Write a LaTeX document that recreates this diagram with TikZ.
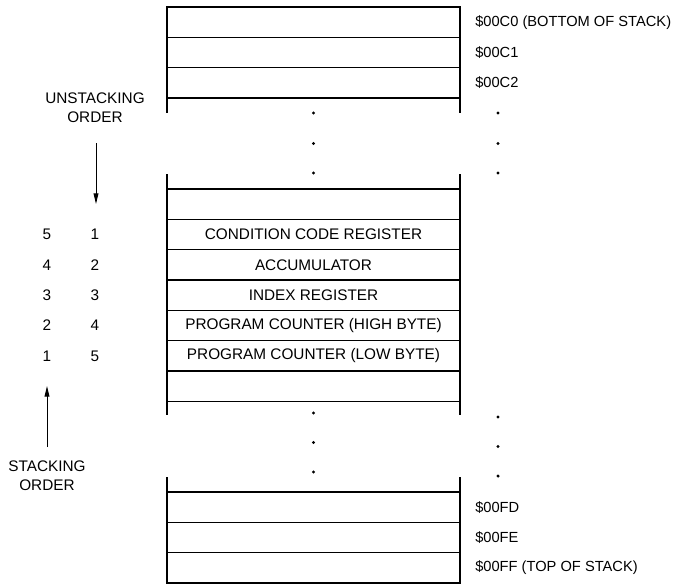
\documentclass[tikz,border=0pt]{standalone}
\usepackage{fontspec}
\setmainfont{Liberation Sans}
\usetikzlibrary{positioning,arrows.meta}

\begin{document}
\begin{tikzpicture}[x=0.75pt,y=-0.75pt,
  cell/.style={draw,line width=0.9pt,outer sep=0pt,inner sep=0pt,
    minimum width=219.75pt,minimum height=22.75pt,font=\fontsize{11.5}{13}\selectfont},
  addr/.style={inner sep=0pt,font=\fontsize{11}{13}\selectfont},
  num/.style={inner sep=0pt,font=\fontsize{11.5}{13}\selectfont},
  order/.style={inner sep=0pt,align=center,font=\fontsize{11.5}{14}\selectfont},
  dot/.style={circle,fill,inner sep=0pt,minimum size=2.6pt},
  stub/.style={line width=0.9pt},
  flow/.style={line width=0.75pt,-{Triangle[length=8pt,width=3.6pt]}}]
  \useasboundingbox (0,0) rectangle (689,583);

  % top of the memory area
  \node[cell] (c1) at (313.5,22.2) {};
  \node[cell,below=0pt of c1] (c2) {};
  \node[cell,below=0pt of c2] (c3) {};
  \node[addr,right=11.25pt of c1] {\$00C0 (BOTTOM OF STACK)};
  \node[addr,right=11.25pt of c2] {\$00C1};
  \node[addr,right=11.25pt of c3] {\$00C2};
  \draw[stub] (c3.south west) -- ++(0,15) (c3.south east) -- ++(0,15);

  % stacked registers
  \node[cell] (m1) at (313.5,204.2) {};
  \node[cell,below=0pt of m1] (m2) {CONDITION CODE REGISTER};
  \node[cell,below=0pt of m2] (m3) {ACCUMULATOR};
  \node[cell,below=0pt of m3] (m4) {INDEX REGISTER};
  \node[cell,below=0pt of m4] (m5) {PROGRAM COUNTER (HIGH BYTE)};
  \node[cell,below=0pt of m5] (m6) {PROGRAM COUNTER (LOW BYTE)};
  \node[cell,below=0pt of m6] (m7) {};
  \draw[stub] (m1.north west) -- ++(0,-15) (m1.north east) -- ++(0,-15);
  \draw[stub] (m7.south west) -- ++(0,14) (m7.south east) -- ++(0,14);

  % top of stack
  \node[cell] (b1) at (313.5,507.2) {};
  \node[cell,below=0pt of b1] (b2) {};
  \node[cell,below=0pt of b2] (b3) {};
  \node[addr,right=11.25pt of b1] {\$00FD};
  \node[addr,right=11.25pt of b2] {\$00FE};
  \node[addr,right=11.25pt of b3] {\$00FF (TOP OF STACK)};
  \draw[stub] (b1.north west) -- ++(0,-15) (b1.north east) -- ++(0,-15);

  % gaps
  \foreach \y [count=\i] in {113,143.5,173} {
    \node[dot] (gu\i) at (313.5,\y) {};
    \node[dot] (ru\i) at (498,\y) {};
  }
  \foreach \y [count=\i] in {413,442.5,472} {
    \node[dot] (gl\i) at (313.5,\y) {};
    \node[dot] (rl\i) at (498,\y+4) {};
  }

  % order numbers
  \foreach \s/\u [count=\k from 2] in {5/1,4/2,3/3,2/4,1/5} {
    \node[num] (s\k) at (47,0 |- m\k) {\s};
    \node[num] (u\k) at (95,0 |- m\k) {\u};
  }

  \node[order] (unstack) at (95,108) {UNSTACKING\\ORDER};
  \coordinate (dtop) at (96,143);
  \coordinate (dbot) at (96,204);
  \draw[flow] (dtop) -- (dbot);

  \node[order] (stack) at (47,476) {STACKING\\ORDER};
  \coordinate (ubot) at (47,447);
  \coordinate (utop) at (47,386);
  \draw[flow] (ubot) -- (utop);
\end{tikzpicture}
\end{document}
